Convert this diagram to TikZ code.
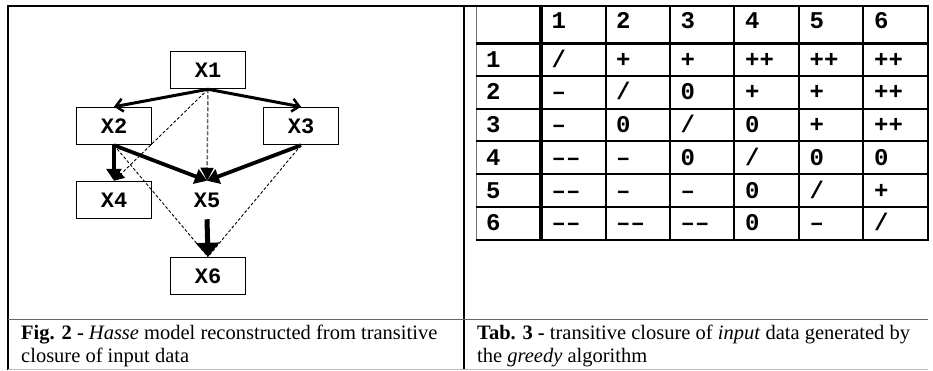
\documentclass[tikz,border=0pt]{standalone}
\usepackage{fontspec}
\setmainfont{Liberation Serif}
\setmonofont{Liberation Mono}
\usetikzlibrary{arrows.meta}
\begin{document}
\begin{tikzpicture}[x=1pt,y=-1pt,
  hbox/.style={draw, line width=1.5pt, minimum width=75pt, minimum height=37pt, inner sep=0pt,
    font=\ttfamily\bfseries\fontsize{22}{22}\selectfont},
  hlabel/.style={hbox, draw=none},
  thickarrow/.style={line width=3.8pt, -{Triangle[length=12pt,width=15pt]}},
  barbarrow/.style={line width=3pt, -{Straight Barb[length=7pt,width=13pt,line width=2.5pt]}},
  bigarrow/.style={line width=5pt, -{Triangle[length=14pt,width=23pt]}},
  grayarrow/.style={line width=1.5pt, draw=black!60, dash pattern=on 4pt off 2pt, -{Triangle[length=13pt,width=13pt,color=black,fill=black]}},
  thinarrow/.style={line width=0.9pt, dash pattern=on 3pt off 2pt, -{Triangle[length=10pt,width=11pt]}},
  thinline/.style={line width=0.9pt, dash pattern=on 3pt off 2pt},
  framel/.style={line width=1.4pt, draw=black},
  sepl/.style={line width=1pt, draw=black!60},
  cell/.style={anchor=base west, inner sep=0pt, font=\ttfamily\bfseries\fontsize{24}{24}\selectfont},
  capt/.style={anchor=north west, inner sep=0pt, align=left, font=\fontsize{20.5}{23}\selectfont}
]
\useasboundingbox (0,0) rectangle (933,370);
% frame
\draw[framel] (8,370) -- (8,6) -- (928,6);
\draw[framel] (464,6) -- (464,370);
\draw[sepl] (8,319) -- (928,319);
\draw[line width=0.8pt, draw=black!25] (8,369) -- (928,369);

% Hasse diagram
\node[hbox] (x1) at (208,70) {X1};
\node[hbox] (x2) at (114,126) {X2};
\node[hbox] (x3) at (301,126) {X3};
\node[hbox] (x4) at (114,200) {X4};
\node[hlabel] (x5) at (207,200) {X5};
\node[hbox] (x6) at (208,276) {X6};

\draw[thinarrow] (x1.south) -- (x4.north);
\draw[thinline] (x2.south) -- (x6.north);
\draw[thinline] (x3.south) -- (x6.north);
\draw[grayarrow] (x1.south) -- (x5.north);
\draw[barbarrow] (x1.south) -- (x2.north);
\draw[barbarrow] (x1.south) -- (x3.north);
\draw[thickarrow] (x2.south) -- (x4.north);
\draw[thickarrow] (x2.south) -- (x5.north);
\draw[thickarrow] (x3.south) -- (x5.north);
\draw[bigarrow] (x5.south) -- (x6.north);

% table
\draw[line width=1pt, draw=black!55] (476,6) -- (476,240);
\foreach \x in {606,670,734,799,863} \draw[line width=1.2pt] (\x,6) -- (\x,240);
\foreach \y in {76,109,141,174,207} \draw[line width=1.2pt] (476,\y) -- (928,\y);
\draw[line width=4pt] (541,6) -- (541,240);
\draw[line width=3.5pt] (476,43.5) -- (928,43.5);
\draw[line width=2.5pt] (928,5) -- (928,241);
\draw[line width=2pt] (476,6) -- (928,6);
\draw[line width=1.6pt] (476,240) -- (929,240);

% header
\foreach \c [count=\i] in {1,2,3,4,5,6} {
  \pgfmathsetmacro{\xx}{541+64.5*(\i-1)+10.5}
  \node[cell] (h\i) at (\xx,28) {\c};
}
% rows
\foreach \r/\vals [count=\j] in {
  1/{/,+,+,++,++,++},
  2/{–,/,0,+,+,++},
  3/{–,0,/,0,+,++},
  4/{––,–,0,/,0,0},
  5/{––,–,–,0,/,+},
  6/{––,––,––,0,–,/}} {
  \pgfmathsetmacro{\yy}{43.5+32.75*(\j-1)+23.5}
  \node[cell] (r\j) at (486,\yy) {\r};
  \foreach \v [count=\i] in \vals {
    \pgfmathsetmacro{\xx}{541+64.5*(\i-1)+10.5}
    \node[cell] (c\j-\i) at (\xx,\yy) {\v};
  }
}

% captions
\node[capt] (cap1) at (21,325) {\textbf{Fig. 2 -} \textit{Hasse} model reconstructed from transitive\\closure of input data};
\node[capt] (cap2) at (477,325) {\textbf{Tab. 3 -} transitive closure of \textit{input} data generated by\\the \textit{greedy} algorithm};
\end{tikzpicture}
\end{document}
